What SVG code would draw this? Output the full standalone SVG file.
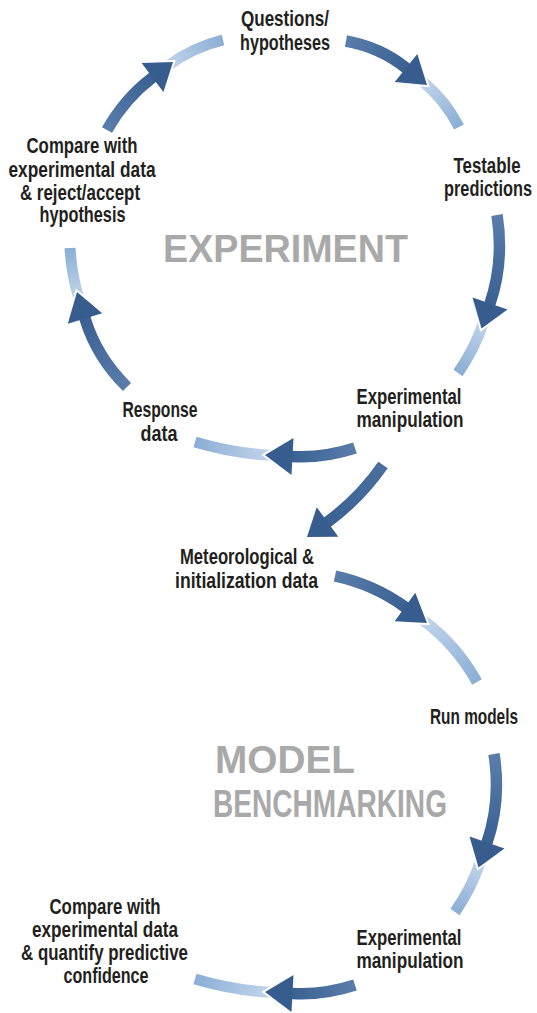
<svg xmlns="http://www.w3.org/2000/svg" width="537" height="1013" viewBox="0 0 537 1013">
  <style>
    .lbl { font-family: 'Liberation Sans Narrow', 'Liberation Sans', Arial, sans-serif; font-weight: 700; font-size: 21.5px; fill: #231f20; text-anchor: middle; }
    .ttl { font-family: 'Liberation Sans', Arial, sans-serif; font-weight: 700; font-size: 39px; fill: #a9a9a9; text-anchor: middle; }
    .shaft { fill: none; stroke-width: 11.5; stroke-linecap: butt; }
    .trail { fill: none; stroke-width: 11; stroke-linecap: butt; }
    .halo { fill: #ffffff; stroke: #ffffff; stroke-width: 4; stroke-linejoin: miter; }
    .head { fill: #365d8e; }
  </style>
  <defs>
    <!-- shaft gradients: lighter at the tail, darker at the head -->
    <linearGradient id="sA1" gradientUnits="userSpaceOnUse" x1="346" y1="41" x2="406" y2="68"><stop offset="0" stop-color="#5a7dab"/><stop offset="1" stop-color="#3a6192"/></linearGradient>
    <linearGradient id="sA2" gradientUnits="userSpaceOnUse" x1="497" y1="215" x2="490" y2="303"><stop offset="0" stop-color="#5a7dab"/><stop offset="1" stop-color="#3a6192"/></linearGradient>
    <linearGradient id="sA3" gradientUnits="userSpaceOnUse" x1="355" y1="448" x2="292" y2="456"><stop offset="0" stop-color="#5a7dab"/><stop offset="1" stop-color="#3a6192"/></linearGradient>
    <linearGradient id="sA4" gradientUnits="userSpaceOnUse" x1="127" y1="387" x2="85" y2="318"><stop offset="0" stop-color="#5a7dab"/><stop offset="1" stop-color="#3a6192"/></linearGradient>
    <linearGradient id="sA5" gradientUnits="userSpaceOnUse" x1="107" y1="130" x2="152" y2="77"><stop offset="0" stop-color="#5a7dab"/><stop offset="1" stop-color="#3a6192"/></linearGradient>
    <linearGradient id="sC" gradientUnits="userSpaceOnUse" x1="383" y1="465" x2="327" y2="522"><stop offset="0" stop-color="#4a6f9f"/><stop offset="1" stop-color="#3a6192"/></linearGradient>
    <linearGradient id="sB1" gradientUnits="userSpaceOnUse" x1="335" y1="576" x2="405" y2="607"><stop offset="0" stop-color="#5a7dab"/><stop offset="1" stop-color="#3a6192"/></linearGradient>
    <!-- trailing segment gradients: pale at the notch, deeper at the far end -->
    <linearGradient id="tA1" gradientUnits="userSpaceOnUse" x1="422" y1="81" x2="459" y2="127"><stop offset="0" stop-color="#c2d5eb"/><stop offset="1" stop-color="#8aaed5"/></linearGradient>
    <linearGradient id="tA2" gradientUnits="userSpaceOnUse" x1="483" y1="323" x2="458" y2="373"><stop offset="0" stop-color="#c2d5eb"/><stop offset="1" stop-color="#8aaed5"/></linearGradient>
    <linearGradient id="tA3" gradientUnits="userSpaceOnUse" x1="271" y1="455" x2="195" y2="442"><stop offset="0" stop-color="#c2d5eb"/><stop offset="1" stop-color="#8aaed5"/></linearGradient>
    <linearGradient id="tA4" gradientUnits="userSpaceOnUse" x1="79" y1="298" x2="70" y2="248"><stop offset="0" stop-color="#c2d5eb"/><stop offset="1" stop-color="#8aaed5"/></linearGradient>
    <linearGradient id="tA5" gradientUnits="userSpaceOnUse" x1="168" y1="66" x2="223" y2="40"><stop offset="0" stop-color="#c2d5eb"/><stop offset="1" stop-color="#8aaed5"/></linearGradient>
    <linearGradient id="tB1" gradientUnits="userSpaceOnUse" x1="422" y1="620" x2="477" y2="682"><stop offset="0" stop-color="#c2d5eb"/><stop offset="1" stop-color="#8aaed5"/></linearGradient>
  </defs>

  <rect width="537" height="1013" fill="#ffffff"/>

  <g id="connectors">
    <!-- experiment cycle -->
    <g id="arrow-questions-to-predictions">
      <path class="trail" stroke="url(#tA1)" d="M422.3,81.2 Q445.1,99.7 459,127"/>
      <polygon class="halo" points="427,85 394.7,82 417.3,54"/>
      <path class="shaft" stroke="url(#sA1)" d="M346,41 Q380.4,47.3 406,68 L408.3,69.9"/>
      <polygon class="head" points="427,85 394.7,82 417.3,54"/>
    </g>
    <g id="arrow-predictions-to-manipulation">
      <path class="trail" stroke="url(#tA2)" d="M483.4,322.8 Q474.4,349.4 458,373"/>
      <polygon class="halo" points="481.5,328.5 472.5,297.5 507.5,309.5"/>
      <path class="shaft" stroke="url(#sA2)" d="M497,215 Q504.3,261.5 490,303.5 L489,306.3"/>
      <polygon class="head" points="481.5,328.5 472.5,297.5 507.5,309.5"/>
    </g>
    <g id="arrow-manipulation-to-response">
      <path class="trail" stroke="url(#tA3)" d="M271,455.3 Q232.6,453.2 195,442"/>
      <polygon class="halo" points="265,455 293.5,438 291.5,475"/>
      <path class="shaft" stroke="url(#sA3)" d="M355,448 Q323.7,458.2 292.5,456.5 L289.5,456.3"/>
      <polygon class="head" points="265,455 293.5,438 291.5,475"/>
    </g>
    <g id="arrow-response-to-compare">
      <path class="trail" stroke="url(#tA4)" d="M78.7,297.7 Q71.4,273.6 70,248"/>
      <polygon class="halo" points="77,292 102.2,313.3 67.8,323.7"/>
      <path class="shaft" stroke="url(#sA4)" d="M127,387 Q96.6,357 85,318.5 L84.1,315.6"/>
      <polygon class="head" points="77,292 102.2,313.3 67.8,323.7"/>
    </g>
    <g id="arrow-compare-to-questions">
      <path class="trail" stroke="url(#tA5)" d="M168.2,65.6 Q192.3,47.4 223,40"/>
      <polygon class="halo" points="173,62 163.4,91.9 141.6,63.1"/>
      <path class="shaft" stroke="url(#sA5)" d="M107,130 Q124.8,98.4 152.5,77.5 L154.9,75.7"/>
      <polygon class="head" points="173,62 163.4,91.9 141.6,63.1"/>
    </g>
    <!-- link between the two cycles -->
    <g id="arrow-manipulation-to-meteorological">
      <path class="shaft" stroke="url(#sC)" d="M383,465 Q359.6,498.5 327.5,522 L325.1,523.8"/>
      <polygon class="head" points="307,537 316.7,507.2 338.3,536.8"/>
    </g>
    <!-- benchmarking cycle -->
    <g id="arrow-meteorological-to-run">
      <path class="trail" stroke="url(#tB1)" d="M422.1,619.5 Q455.8,644 477,682"/>
      <polygon class="halo" points="427,623 394.7,621.2 415.3,592.8"/>
      <path class="shaft" stroke="url(#sB1)" d="M335,576 Q374,584.5 405,607 L407.4,608.8"/>
      <polygon class="head" points="427,623 394.7,621.2 415.3,592.8"/>
    </g>
    <g id="arrow-run-to-manipulation" transform="translate(-3,539)">
      <path class="trail" stroke="url(#tA2)" d="M483.4,322.8 Q474.4,349.4 458,373"/>
      <polygon class="halo" points="481.5,328.5 472.5,297.5 507.5,309.5"/>
      <path class="shaft" stroke="url(#sA2)" d="M497,215 Q504.3,261.5 490,303.5 L489,306.3"/>
      <polygon class="head" points="481.5,328.5 472.5,297.5 507.5,309.5"/>
    </g>
    <g id="arrow-manipulation-to-confidence" transform="translate(0,537)">
      <path class="trail" stroke="url(#tA3)" d="M271,455.3 Q232.6,453.2 195,442"/>
      <polygon class="halo" points="265,455 293.5,438 291.5,475"/>
      <path class="shaft" stroke="url(#sA3)" d="M355,448 Q323.7,458.2 292.5,456.5 L289.5,456.3"/>
      <polygon class="head" points="265,455 293.5,438 291.5,475"/>
    </g>
  </g>

  <!-- cycle titles -->
  <g id="title-experiment">
    <text class="ttl" x="285.5" y="262" textLength="245" lengthAdjust="spacingAndGlyphs">EXPERIMENT</text>
  </g>
  <g id="title-benchmarking">
    <text class="ttl" x="285" y="773" textLength="140" lengthAdjust="spacingAndGlyphs">MODEL</text>
    <text class="ttl" x="330" y="817" textLength="234" lengthAdjust="spacingAndGlyphs">BENCHMARKING</text>
  </g>

  <!-- experiment cycle nodes -->
  <g id="node-questions">
    <text class="lbl" x="285" y="26" textLength="88" lengthAdjust="spacingAndGlyphs">Questions/</text>
    <text class="lbl" x="285" y="50" textLength="90" lengthAdjust="spacingAndGlyphs">hypotheses</text>
  </g>
  <g id="node-predictions">
    <text class="lbl" x="487" y="173" textLength="67" lengthAdjust="spacingAndGlyphs">Testable</text>
    <text class="lbl" x="488" y="196" textLength="88" lengthAdjust="spacingAndGlyphs">predictions</text>
  </g>
  <g id="node-manipulation">
    <text class="lbl" x="409" y="404" textLength="105" lengthAdjust="spacingAndGlyphs">Experimental</text>
    <text class="lbl" x="410" y="427" textLength="107" lengthAdjust="spacingAndGlyphs">manipulation</text>
  </g>
  <g id="node-response">
    <text class="lbl" x="160" y="417" textLength="75" lengthAdjust="spacingAndGlyphs">Response</text>
    <text class="lbl" x="159" y="441" textLength="37" lengthAdjust="spacingAndGlyphs">data</text>
  </g>
  <g id="node-compare">
    <text class="lbl" x="82" y="153" textLength="111" lengthAdjust="spacingAndGlyphs">Compare with</text>
    <text class="lbl" x="82" y="177" textLength="147" lengthAdjust="spacingAndGlyphs">experimental data</text>
    <text class="lbl" x="80" y="200" textLength="120" lengthAdjust="spacingAndGlyphs">&amp; reject/accept</text>
    <text class="lbl" x="82.5" y="222" textLength="86" lengthAdjust="spacingAndGlyphs">hypothesis</text>
  </g>

  <!-- benchmarking cycle nodes -->
  <g id="node-meteorological">
    <text class="lbl" x="247" y="564" textLength="134" lengthAdjust="spacingAndGlyphs">Meteorological &amp;</text>
    <text class="lbl" x="246.5" y="588" textLength="143" lengthAdjust="spacingAndGlyphs">initialization data</text>
  </g>
  <g id="node-run">
    <text class="lbl" x="474" y="724" textLength="88" lengthAdjust="spacingAndGlyphs">Run models</text>
  </g>
  <g id="node-manipulation-2">
    <text class="lbl" x="409" y="945" textLength="105" lengthAdjust="spacingAndGlyphs">Experimental</text>
    <text class="lbl" x="410" y="968" textLength="107" lengthAdjust="spacingAndGlyphs">manipulation</text>
  </g>
  <g id="node-confidence">
    <text class="lbl" x="105" y="914" textLength="111" lengthAdjust="spacingAndGlyphs">Compare with</text>
    <text class="lbl" x="105" y="937" textLength="146" lengthAdjust="spacingAndGlyphs">experimental data</text>
    <text class="lbl" x="104.5" y="960" textLength="167" lengthAdjust="spacingAndGlyphs">&amp; quantify predictive</text>
    <text class="lbl" x="106" y="983" textLength="85" lengthAdjust="spacingAndGlyphs">confidence</text>
  </g>
</svg>
